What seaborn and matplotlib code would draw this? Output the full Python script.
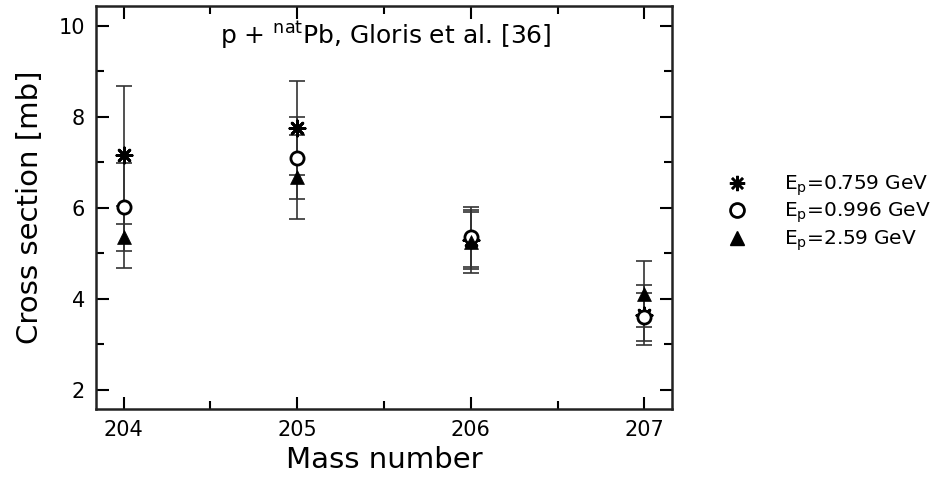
import matplotlib
matplotlib.use("Agg")
import matplotlib.pyplot as plt
import seaborn as sns
import pandas as pd
import numpy as np
from matplotlib.ticker import MultipleLocator
from matplotlib.lines import Line2D

mass = [204, 205, 206, 207]
labels = [r"E$_\mathrm{p}$=0.759 GeV", r"E$_\mathrm{p}$=0.996 GeV", r"E$_\mathrm{p}$=2.59 GeV"]
xs_0759 = [7.16, 7.76, 5.30, 3.65]
err_0759 = [1.52, 1.03, 0.65, 0.66]
xs_0996 = [6.02, 7.10, 5.36, 3.60]
err_0996 = [0.97, 0.90, 0.66, 0.52]
xs_259 = [5.36, 6.68, 5.25, 4.11]
err_259 = [0.68, 0.92, 0.67, 0.73]

rows = []
for lab, v, e in zip(labels, [xs_0759, xs_0996, xs_259], [err_0759, err_0996, err_259]):
    for m, vv, ee in zip(mass, v, e):
        rows.append(dict(mass=m, sigma=vv, err=ee, series=lab))
df = pd.DataFrame(rows)

sns.set_theme(style="ticks")
plt.rcParams['font.family'] = ['DejaVu Sans']
plt.rcParams['text.color'] = 'black'
plt.rcParams['axes.labelcolor'] = 'black'

fig = plt.figure(figsize=(9.39, 4.9), dpi=100)
ax = fig.add_axes([0.1022, 0.1653, 0.6135, 0.8225])

markers = {labels[0]: (8, 2, 0), labels[1]: 'o', labels[2]: '^'}
for lab in labels:
    d = df[df['series'] == lab]
    ax.errorbar(d['mass'], d['sigma'], yerr=d['err'], fmt='none', ecolor='#333333',
                elinewidth=1.2, capsize=6, capthick=1.2, zorder=2)

for lab in labels:
    d = df[df['series'] == lab]
    if markers[lab] == 'o':
        sns.scatterplot(data=d, x='mass', y='sigma', marker='o', s=90, facecolors='white',
                        edgecolor='black', linewidth=2, ax=ax, zorder=3, legend=False)
    elif markers[lab] == '^':
        sns.scatterplot(data=d, x='mass', y='sigma', marker='^', s=100, color='black',
                        edgecolor='black', linewidth=0.5, ax=ax, zorder=3, legend=False)
    else:
        sns.scatterplot(data=d, x='mass', y='sigma', marker=(8, 2, 0), s=120, color='black',
                        linewidth=2, ax=ax, zorder=3, legend=False)

ax.set_xlim(203.84, 207.16)
ax.set_ylim(1.58, 10.44)
ax.xaxis.set_major_locator(MultipleLocator(1))
ax.xaxis.set_minor_locator(MultipleLocator(0.5))
ax.yaxis.set_major_locator(MultipleLocator(2))
ax.yaxis.set_minor_locator(MultipleLocator(1))
ax.tick_params(which='both', direction='in', top=True, right=True, width=1.5, labelsize=15, colors='black')
ax.tick_params(which='major', length=9, pad=8)
ax.tick_params(which='minor', length=6)
for sp in ax.spines.values():
    sp.set_linewidth(1.8)
    sp.set_color('#222222')

ax.set_xlabel('Mass number', fontsize=21, labelpad=4)
ax.set_ylabel('Cross section [mb]', fontsize=21, labelpad=10)
ax.text(0.215, 0.905, r'p + $^{\mathrm{nat}}$Pb, Gloris et al. [36]', transform=ax.transAxes, fontsize=18)

handles = [
    Line2D([], [], linestyle='none', marker=(8, 2, 0), markersize=11, color='black', markeredgewidth=1.8),
    Line2D([], [], linestyle='none', marker='o', markersize=10, markerfacecolor='white', markeredgecolor='black', markeredgewidth=2),
    Line2D([], [], linestyle='none', marker='^', markersize=10, color='black'),
]
fig.legend(handles, labels, loc='center left', bbox_to_anchor=(0.749, 0.565), frameon=False,
           fontsize=14.5, handletextpad=1.6, labelspacing=0.15, handlelength=1.5)

fig.savefig('out.png', dpi=100)
